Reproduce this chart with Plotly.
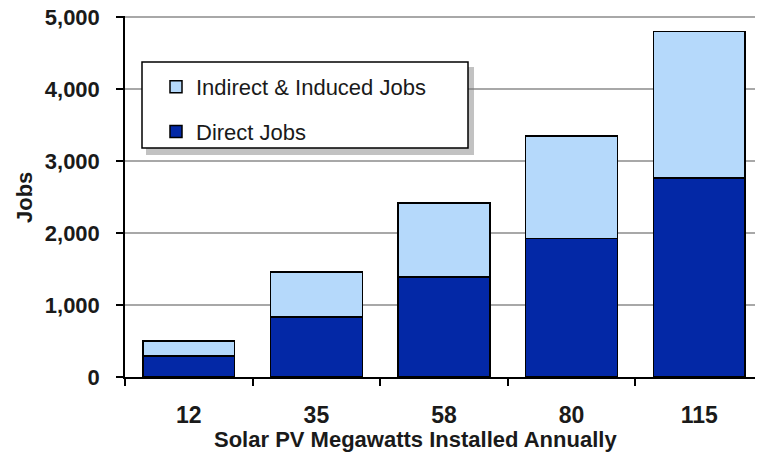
import plotly.graph_objects as go

categories = ["12", "35", "58", "80", "115"]
direct_jobs = [290, 837, 1393, 1925, 2768]
total_jobs = [500, 1460, 2418, 3351, 4806]
indirect_jobs = [t - d for t, d in zip(total_jobs, direct_jobs)]
y_ticks = [0, 1000, 2000, 3000, 4000, 5000]
y_tick_labels = ["0", "1,000", "2,000", "3,000", "4,000", "5,000"]

OFF = 8  # page body margin
W, H = 763 - OFF, 455 - OFF
L, T = 125 - OFF, 16 - OFF
R = 0
B = H - (377 - OFF)
pw, ph = W - L - R, H - T - B

def px_x(x):
    return (x - OFF - L) / pw

def px_y(y):
    return (H - B - (y - OFF)) / ph

FONT = "Arial, Liberation Sans, sans-serif"

fig = go.Figure()
fig.add_trace(go.Bar(
    x=categories, y=direct_jobs, name="Direct Jobs",
    marker=dict(color="#0328A6", line=dict(color="#000000", width=1.5)),
    legendgroup="d", legendrank=2,
))
fig.add_trace(go.Bar(
    x=categories, y=indirect_jobs, name="Indirect & Induced Jobs",
    marker=dict(color="#B5D9FB", line=dict(color="#000000", width=1.5)),
    legendgroup="i", legendrank=1,
))

shapes = [
    dict(type="rect", xref="paper", yref="paper",
         x0=px_x(146), x1=px_x(474), y0=px_y(155), y1=px_y(67),
         fillcolor="rgba(120,120,120,0.45)", line=dict(width=0), layer="above"),
    dict(type="rect", xref="paper", yref="paper",
         x0=px_x(142), x1=px_x(468), y0=px_y(148), y1=px_y(62),
         fillcolor="#FFFFFF", line=dict(color="#000000", width=1.5), layer="above"),
]

fig.update_layout(
    width=W, height=H,
    margin=dict(l=L, r=R, t=T, b=B, pad=0, autoexpand=False),
    paper_bgcolor="#FFFFFF", plot_bgcolor="#FFFFFF",
    barmode="stack", bargap=0.28,
    font=dict(family=FONT, color="#1A1A1A"),
    shapes=shapes,
    showlegend=True,
    legend=dict(
        x=px_x(156), y=px_y(66), xanchor="left", yanchor="top",
        bgcolor="rgba(0,0,0,0)", borderwidth=0,
        font=dict(family=FONT, size=22, color="#1A1A1A"),
        traceorder="grouped", tracegroupgap=13,
    ),
    xaxis=dict(
        type="category",
        showline=True, linecolor="#000000", linewidth=1.5,
        ticks="outside", tickson="boundaries", ticklen=7, tickcolor="#000000", tickwidth=1.5,
        tickfont=dict(family=FONT, size=23, color="#1A1A1A", weight="bold"),
        ticklabelstandoff=17,
        showgrid=False,
    ),
    yaxis=dict(
        range=[0, 5020], tickvals=y_ticks, ticktext=y_tick_labels,
        showline=True, linecolor="#000000", linewidth=1.5,
        ticks="outside", ticklen=7, tickcolor="#000000", tickwidth=1.5,
        tickfont=dict(family=FONT, size=22, color="#1A1A1A", weight="bold"),
        ticklabelstandoff=12, ticklabeloverflow="allow",
        showgrid=True, gridcolor="#A8A8A8", gridwidth=1.5,
        zeroline=False,
    ),
    annotations=[
        dict(text="<b>Jobs</b>", xref="paper", yref="paper",
             x=px_x(24), y=px_y(198), xanchor="center", yanchor="middle",
             textangle=-90, showarrow=False,
             font=dict(family=FONT, size=22, color="#1A1A1A")),
        dict(text="<b>Solar PV Megawatts Installed Annually</b>", xref="paper", yref="paper",
             x=px_x(415), y=px_y(440), xanchor="center", yanchor="middle",
             showarrow=False,
             font=dict(family=FONT, size=22, color="#1A1A1A")),
    ],
)

fig.write_html("out.html")
